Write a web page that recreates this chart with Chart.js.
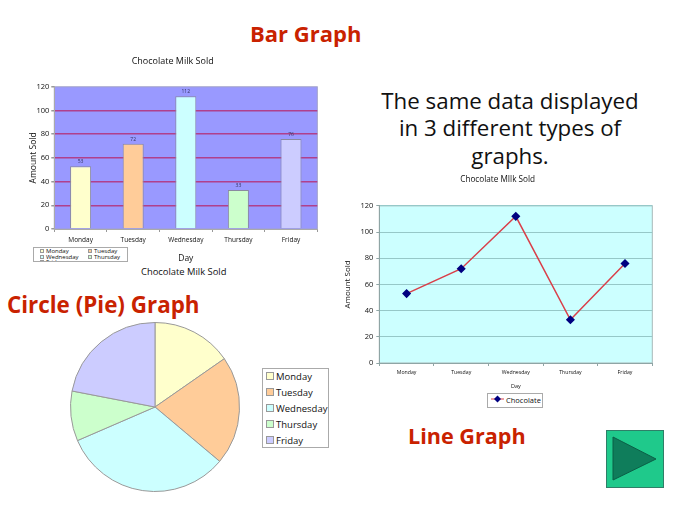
<!DOCTYPE html>
<html>
<head>
<meta charset="utf-8">
<title>Chocolate Milk Sold</title>
<script src="https://cdn.jsdelivr.net/npm/chart.js@4"></script>
<style>
    html, body { margin: 0; padding: 0; background: #fff; }
    body { position: relative; width: 680px; height: 510px; overflow: hidden; font-family: "Open Sans", sans-serif; color: #111; }
    canvas, .text, .legend, #button { position: absolute; }
    .text { white-space: nowrap; line-height: 1; }
    .heading { color: #c92200; font-weight: 700; font-size: 22px; }
    .legend { background: #fff; border: 1px solid #aaa; box-sizing: border-box; white-space: nowrap; }
    .swatch { display: inline-block; box-sizing: border-box; border: 1px solid #999; }
    #barLegend { left: 33px; top: 247px; width: 95px; height: 15px; overflow: hidden; font-size: 6px; line-height: 5.5px; padding: 1px 0 0 6px; display: grid; grid-template-columns: 48px 40px; }
    #barLegend .swatch { width: 4px; height: 4px; margin-right: 2px; }
    #pieLegend { left: 262px; top: 368px; width: 67px; height: 80px; font-size: 9.5px; line-height: 16px; padding: 0 0 0 3px; }
    #pieLegend .swatch { width: 8px; height: 8px; margin-right: 2px; }
    #lineLegend { left: 487px; top: 393px; width: 56px; height: 15px; font-size: 7.5px; line-height: 13px; padding-left: 3px; }
    #button { left: 606px; top: 430px; }
</style>
</head>
<body>
<div class="text heading" style="left:250px;top:22px">Bar Graph</div>
<div class="text heading" style="left:7px;top:294px;font-size:22.4px">Circle (Pie) Graph</div>
<div class="text heading" style="left:408px;top:425px;font-size:21.6px">Line Graph</div>
<div class="text" style="left:360px;width:300px;top:90px;font-size:22.3px;text-align:center">The same data displayed</div>
<div class="text" style="left:360px;width:300px;top:117px;font-size:22.3px;text-align:center">in 3 different types of</div>
<div class="text" style="left:360px;width:300px;top:145px;font-size:22.3px;text-align:center">graphs.</div>
<div class="text" style="left:141px;top:267px;font-size:9.4px">Chocolate Milk Sold</div>

<canvas id="barChart" width="302" height="212" style="left:28px;top:54px"></canvas>
<canvas id="pieChart" width="172" height="172" style="left:69px;top:321px"></canvas>
<canvas id="lineChart" width="320" height="220" style="left:343px;top:172px"></canvas>

<div class="legend" id="barLegend"></div>
<div class="legend" id="pieLegend"></div>
<div class="legend" id="lineLegend"></div>

<svg id="button" width="58" height="58">
    <rect x="0.5" y="0.5" width="57" height="57" fill="#1fc98b" stroke="#2f7f68"/>
    <polygon points="7,7 50,29 7,50" fill="#0f7d5b" stroke="#0b5f46"/>
</svg>

<script>
    const days = ["Monday", "Tuesday", "Wednesday", "Thursday", "Friday"];
    const amountSold = [53, 72, 112, 33, 76];
    const dayColors = ["#ffffcc", "#ffcc99", "#ccffff", "#ccffcc", "#ccccff"];
    const seriesName = "Chocolate";
    const chartTitle = "Chocolate Milk Sold";
    const lineTitle = "Chocolate MIlk Sold";
    const yAxisMax = 120;
    const yAxisStep = 20;

    const fontName = "'Open Sans', sans-serif";
    const inkColor = "#111111";

    Chart.defaults.animation = false;
    Chart.defaults.responsive = false;
    Chart.defaults.font.family = fontName;
    Chart.defaults.color = inkColor;

    // Fills the plot area and draws its frame, behind the datasets
    const plotBackground = {
        id: "plotBackground",
        beforeDraw(chart, args, opts) {
            const { ctx, chartArea: a } = chart;
            ctx.save();
            ctx.fillStyle = opts.color;
            ctx.fillRect(a.left, a.top, a.width, a.height);
            ctx.strokeStyle = opts.frame;
            ctx.strokeRect(a.left, a.top, a.width, a.height);
            ctx.restore();
        },
    };

    // Small value labels above the bars
    const barValues = {
        id: "barValues",
        afterDatasetsDraw(chart) {
            const { ctx } = chart;
            ctx.save();
            ctx.font = "5px " + fontName;
            ctx.fillStyle = "#33335f";
            ctx.textAlign = "center";
            chart.getDatasetMeta(0).data.forEach((bar, i) => {
                ctx.fillText(amountSold[i], bar.x, bar.y - 3);
            });
            ctx.restore();
        },
    };

    // Bar graph
    new Chart(document.getElementById("barChart"), {
        type: "bar",
        data: {
            labels: days,
            datasets: [
                {
                    label: seriesName,
                    data: amountSold,
                    backgroundColor: dayColors,
                    borderColor: "#8a8aa0",
                    borderWidth: 1,
                    barPercentage: 0.4,
                    categoryPercentage: 1,
                },
            ],
        },
        options: {
            layout: { padding: { right: 12.7 } },
            plugins: {
                legend: { display: false },
                tooltip: { enabled: false },
                title: {
                    display: true,
                    text: chartTitle,
                    font: { size: 9, weight: "normal" },
                    padding: { top: 2, bottom: 20 },
                },
                plotBackground: { color: "#9999ff", frame: "#a0a0c8" },
            },
            scales: {
                x: {
                    afterFit: (scale) => { scale.height = 37; },
                    ticks: { font: { size: 6.5 }, maxRotation: 0, padding: 4 },
                    grid: { drawOnChartArea: false, tickLength: 3, tickColor: "#999999" },
                    border: { color: "#aaaaaa" },
                    title: { display: true, text: "Day", font: { size: 8.5 }, padding: 2 },
                },
                y: {
                    min: 0,
                    max: yAxisMax,
                    afterFit: (scale) => { scale.width = 26.3; },
                    ticks: { stepSize: yAxisStep, font: { size: 7.5 }, padding: 2 },
                    grid: {
                        tickLength: 3,
                        tickColor: "#999999",
                        lineWidth: 1.5,
                        color: (c) => (c.tick.value > 0 && c.tick.value < yAxisMax ? "#b0408c" : "transparent"),
                    },
                    border: { color: "#aaaaaa" },
                    title: { display: true, text: "Amount Sold", font: { size: 8.5 }, padding: 0 },
                },
            },
        },
        plugins: [plotBackground, barValues],
    });

    // Pie graph
    new Chart(document.getElementById("pieChart"), {
        type: "pie",
        data: {
            labels: days,
            datasets: [
                {
                    data: amountSold,
                    backgroundColor: dayColors,
                    borderColor: "#999999",
                    borderWidth: 1,
                },
            ],
        },
        options: {
            layout: { padding: 1 },
            plugins: { legend: { display: false }, tooltip: { enabled: false } },
        },
    });

    // Line graph
    new Chart(document.getElementById("lineChart"), {
        type: "line",
        data: {
            labels: days,
            datasets: [
                {
                    label: seriesName,
                    data: amountSold,
                    borderColor: "#d9404a",
                    borderWidth: 1.5,
                    tension: 0,
                    pointStyle: "rectRot",
                    pointRadius: 3.5,
                    pointBackgroundColor: "#000080",
                    pointBorderColor: "#000080",
                },
            ],
        },
        options: {
            layout: { padding: { right: 10.7 } },
            plugins: {
                legend: { display: false },
                tooltip: { enabled: false },
                title: {
                    display: true,
                    text: lineTitle,
                    font: { size: 8.2, weight: "normal" },
                    padding: { top: 3, bottom: 21 },
                },
                plotBackground: { color: "#ccffff", frame: "#a8b8b8" },
            },
            scales: {
                x: {
                    offset: true,
                    afterFit: (scale) => { scale.height = 29; },
                    ticks: { font: { size: 5.2 }, maxRotation: 0, padding: 3 },
                    grid: { offset: true, drawOnChartArea: false, tickLength: 3, tickColor: "#8fa5a5" },
                    border: { color: "#8fa5a5" },
                    title: { display: true, text: "Day", font: { size: 5.5 }, padding: 2 },
                },
                y: {
                    min: 0,
                    max: yAxisMax,
                    afterFit: (scale) => { scale.width = 36.3; },
                    ticks: { stepSize: yAxisStep, font: { size: 7.5 }, padding: 3 },
                    grid: { tickLength: 3, color: "#96c8c8", tickColor: "#8fa5a5" },
                    border: { color: "#8fa5a5" },
                    title: { display: true, text: "Amount Sold", font: { size: 8 }, padding: 0 },
                },
            },
        },
        plugins: [plotBackground],
    });

    // Legends
    const swatchRow = (name, i) =>
        '<div><span class="swatch" style="background:' + dayColors[i] + '"></span>' + name + "</div>";
    document.getElementById("barLegend").innerHTML = days.map(swatchRow).join("");
    document.getElementById("pieLegend").innerHTML = days.map(swatchRow).join("");
    document.getElementById("lineLegend").innerHTML =
        '<svg width="13" height="8" style="margin-right:2px"><line x1="0" y1="4" x2="13" y2="4" stroke="#d9404a"/>' +
        '<polygon points="6.5,0.5 10,4 6.5,7.5 3,4" fill="#000080"/></svg>' + seriesName;
</script>
</body>
</html>
